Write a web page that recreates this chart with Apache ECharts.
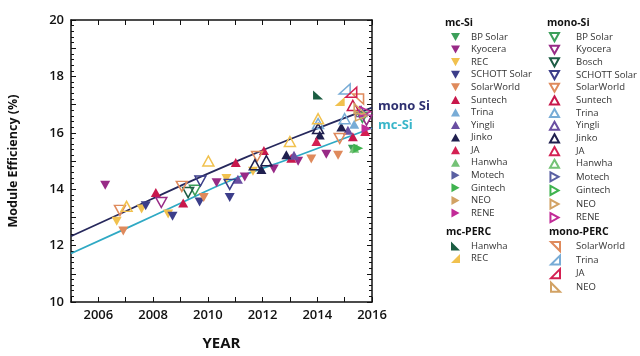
<!DOCTYPE html>
<html><head><meta charset="utf-8">
<script src="https://cdn.jsdelivr.net/npm/echarts@6/dist/echarts.min.js"></script>
<style>html,body{margin:0;padding:0;background:#fff}#c{width:640px;height:356px}</style>
</head><body><div id="c"></div>
<script>
// ---- Axis ticks ----
const yearMin = 2005, yearMax = 2016;
const effMin = 10, effMax = 20;

// ---- Trend lines [year, efficiency] ----
const monoSiTrend = [[2005,12.33],[2007,13.22],[2009,14.12],[2011,14.97],[2013,15.77],[2016,16.89]];
const mcSiTrend   = [[2005,11.72],[2007,12.6],[2009,13.5],[2011,14.38],[2013,15.08],[2016,16.17]];

// ---- mc-Si (filled) ----
const mcBPSolar   = [[2015.3,15.42]];
const mcKyocera   = [[2006.25,14.14],[2010.32,14.23],[2011.35,14.43],[2012.41,14.72],[2013.3,14.99],[2014.33,15.24]];
const mcREC       = [[2006.67,12.86],[2007.58,13.3],[2008.55,13.12],[2010.68,14.38],[2011.65,14.64]];
const mcSCHOTT    = [[2007.73,13.41],[2008.71,13.04],[2009.7,13.55],[2010.8,13.71]];
const mcSolarWorld= [[2006.91,12.52],[2009.85,13.71],[2013.78,15.07],[2014.76,15.2]];
const mcSuntech   = [[2008.1,13.88],[2009.1,13.51],[2011.02,14.95],[2012.05,15.37],[2013.05,15.1],[2015.3,15.86]];
const mcTrina     = [[2015.35,16.3]];
const mcYingli    = [[2011.1,14.35],[2013.15,15.2],[2015.12,16.09]];
const mcJinko     = [[2011.96,14.7],[2012.87,15.22],[2014.09,15.92],[2014.88,16.21]];
const mcJA        = [[2013.97,15.69],[2015.75,16.05]];
const mcHanwha    = [[2015.35,15.45]];
const mcMotech    = [];
const mcGintech   = [[2015.5,15.45]];
const mcNEO       = [];
const mcRENE      = [[2015.8,16.15]];

// ---- mono-Si (hollow) ----
const monoBPSolar   = [[2009.53,13.96],[2015.65,16.55]];
const monoKyocera   = [[2008.3,13.53],[2015.8,16.45]];
const monoBosch     = [[2009.28,13.88]];
const monoSCHOTT    = [[2009.73,14.29],[2010.8,14.17]];
const monoSolarWorld= [[2006.79,13.25],[2009.05,14.1],[2011.8,15.16],[2014.82,15.8]];
const monoSuntech   = [[2015.3,16.97]];
const monoTrina     = [[2014.03,16.33],[2015.0,16.5]];
const monoYingli    = [[2015.6,16.75]];
const monoJinko     = [[2011.72,14.87],[2012.14,15.01],[2014.03,16.15]];
const monoJA        = [];
const monoHanwha    = [];
const monoMotech    = [];
const monoGintech   = [];
const monoNEO       = [[2015.6,16.6]];
const monoRENE      = [[2015.75,16.75]];
const monoREC       = [[2007.03,13.39],[2010.02,15.0],[2013.0,15.69],[2014.03,16.5]];

// ---- PERC ----
const mcPercHanwha   = [[2014.03,17.34]];
const mcPercREC      = [[2014.82,17.11]];
const monoPercSolarWorld = [[2015.49,17.2]];
const monoPercTrina  = [[2015.0,17.55]];
const monoPercJA     = [[2015.24,17.44]];
const monoPercNEO    = [[2015.55,16.85]];

// ---- legend names ----
const mcNames   = ['BP Solar','Kyocera','REC','SCHOTT Solar','SolarWorld','Suntech','Trina','Yingli','Jinko','JA','Hanwha','Motech','Gintech','NEO','RENE'];
const monoNames = ['BP Solar','Kyocera','Bosch','SCHOTT Solar','SolarWorld','Suntech','Trina','Yingli','Jinko','JA','Hanwha','Motech','Gintech','NEO','RENE'];
const mcPercNames = ['Hanwha','REC'];
const monoPercNames = ['SolarWorld','Trina','JA','NEO'];

// ---- styles ----
const C = {
  'BP Solar':'#3c9f5a','Kyocera':'#982a86','REC':'#f1c14e','SCHOTT Solar':'#3c3e8a','SolarWorld':'#df8a5c',
  'Suntech':'#c8184c','Trina':'#78acd6','Yingli':'#6a4fa2','Jinko':'#1f1f4e','JA':'#d42052','Hanwha':'#74c276',
  'Motech':'#5a60a2','Gintech':'#3fb34f','NEO':'#d2a264','RENE':'#c22b97','Bosch':'#1d5c44','HanwhaPERC':'#1b5d42'
};
const S = {
  down:'path://M0,0 L10,0 L5,9 Z', up:'path://M5,0 L10,9 L0,9 Z', right:'path://M0,0 L9,5 L0,10 Z',
  bl:'path://M0,0 L0,10 L10,10 Z', br:'path://M10,0 L10,10 L0,10 Z', tr:'path://M0,0 L10,0 L10,10 Z'
};
const mcShape = {'BP Solar':'down','Kyocera':'down','REC':'down','SCHOTT Solar':'down','SolarWorld':'down','Suntech':'up','Trina':'up','Yingli':'up','Jinko':'up','JA':'up','Hanwha':'up','Motech':'right','Gintech':'right','NEO':'right','RENE':'right','Bosch':'down'};

const mcData = {'BP Solar':mcBPSolar,'Kyocera':mcKyocera,'REC':mcREC,'SCHOTT Solar':mcSCHOTT,'SolarWorld':mcSolarWorld,'Suntech':mcSuntech,'Trina':mcTrina,'Yingli':mcYingli,'Jinko':mcJinko,'JA':mcJA,'Hanwha':mcHanwha,'Motech':mcMotech,'Gintech':mcGintech,'NEO':mcNEO,'RENE':mcRENE};
const monoData = {'BP Solar':monoBPSolar,'Kyocera':monoKyocera,'Bosch':monoBosch,'SCHOTT Solar':monoSCHOTT,'SolarWorld':monoSolarWorld,'Suntech':monoSuntech,'Trina':monoTrina,'Yingli':monoYingli,'Jinko':monoJinko,'JA':monoJA,'Hanwha':monoHanwha,'Motech':monoMotech,'Gintech':monoGintech,'NEO':monoNEO,'RENE':monoRENE};

function filled(name, key, shape, data, color){
  return {type:'scatter', name:key, data:data, symbol:S[shape], symbolSize:[10,9], z:3,
    itemStyle:{color:color, opacity:1}};
}
function hollow(name, key, shape, data, color){
  return {type:'scatter', name:key, data:data, symbol:S[shape], symbolSize:[11,10], z:4,
    itemStyle:{color:'rgba(255,255,255,0)', borderColor:color, borderWidth:1.5, opacity:1}};
}

const series = [];
series.push({type:'line', name:'monoTrend', data:monoSiTrend, smooth:true, showSymbol:false, z:1,
  lineStyle:{color:'#26285c', width:1.8},
  endLabel:{show:true, formatter:'mono Si', color:'#2e3070', fontWeight:'bold', fontSize:13, fontFamily:'Open Sans', distance:6, offset:[0,-1]}});
series.push({type:'line', name:'mcTrend', data:mcSiTrend, smooth:true, showSymbol:false, z:1,
  lineStyle:{color:'#2fa9c4', width:1.8},
  endLabel:{show:true, formatter:'mc-Si', color:'#38b5c9', fontWeight:'bold', fontSize:13, fontFamily:'Open Sans', distance:6, offset:[0,-3]}});

mcNames.forEach(n => series.push(filled(n, n+'|mc', mcShape[n], mcData[n], C[n])));
monoNames.forEach(n => series.push(hollow(n, n+'|mono', mcShape[n], monoData[n], C[n])));
series.push(hollow('REC','REC|monoextra','up',monoREC,C['REC']));
series.push(filled('Hanwha','Hanwha|mcperc','bl',mcPercHanwha,C['HanwhaPERC']));
series.push(filled('REC','REC|mcperc','br',mcPercREC,C['REC']));
series.push(hollow('SolarWorld','SolarWorld|monoperc','tr',monoPercSolarWorld,C['SolarWorld']));
series.push(hollow('Trina','Trina|monoperc','br',monoPercTrina,C['Trina']));
series.push(hollow('JA','JA|monoperc','br',monoPercJA,C['JA']));
series.push(hollow('NEO','NEO|monoperc','bl',monoPercNEO,C['NEO']));

function leg(names, suffix, left, top, gap){
  return {orient:'vertical', left:left, top:top, padding:0, itemGap:2.57, itemWidth:9, itemHeight:9,
    selectedMode:false, data:names.map(n=>n+suffix), formatter:(s)=>s.split('|')[0],
    textStyle:{fontSize:9.5, fontFamily:'Open Sans', color:'#333', lineHeight:10, padding:[0,0,0,gap]}};
}

const axisBlack = {lineStyle:{color:'#111', width:1.5}};
const option = {
  animation:false,
  backgroundColor:'#fff',
  grid:{left:71, right:268, top:20, bottom:50},
  xAxis:[
    {type:'value', min:yearMin, max:yearMax, interval:1, axisLine:axisBlack,
     axisTick:{inside:true, length:5, lineStyle:{color:'#111'}}, splitLine:{show:false},
     axisLabel:{formatter:v=> v%2===0 ? String(v) : '', fontFamily:'Open Sans', fontWeight:600, fontSize:13, color:'#111', margin:7},
     name:'YEAR', nameLocation:'middle', nameGap:34, nameTextStyle:{fontFamily:'Open Sans', fontWeight:'bold', fontSize:15, color:'#111'}},
    {type:'value', position:'top', min:yearMin, max:yearMax, interval:1, axisLine:axisBlack,
     axisTick:{inside:true, length:5, lineStyle:{color:'#111'}}, axisLabel:{show:false}, splitLine:{show:false}}
  ],
  yAxis:[
    {type:'value', min:effMin, max:effMax, interval:1, axisLine:axisBlack,
     axisTick:{inside:true, length:5, lineStyle:{color:'#111'}},
     minorTick:{show:true, splitNumber:5, length:3, lineStyle:{color:'#111'}},
     splitLine:{show:false},
     axisLabel:{formatter:v=> v%2===0 ? String(v) : '', fontFamily:'Open Sans', fontWeight:600, fontSize:13, color:'#111', margin:7},
     name:'Module Efficiency (%)', nameLocation:'middle', nameGap:51, nameRotate:90,
     nameTextStyle:{fontFamily:'Open Sans', fontWeight:'bold', fontSize:12.5, color:'#111'}},
    {type:'value', position:'right', min:effMin, max:effMax, interval:1, axisLine:axisBlack,
     axisTick:{inside:true, length:5, lineStyle:{color:'#111'}},
     minorTick:{show:true, splitNumber:5, length:3, lineStyle:{color:'#111'}},
     axisLabel:{show:false}, splitLine:{show:false}}
  ],
  legend:[
    leg(mcNames,'|mc',451,32,6),
    leg(monoNames,'|mono',549,32,12),
    leg(mcPercNames,'|mcperc',451,241,6),
    leg(monoPercNames,'|monoperc',550,241,11)
  ],
  graphic:[
    {type:'text', left:445, top:18, style:{text:'mc-Si', font:'bold 10.5px "Open Sans"', fill:'#111'}},
    {type:'text', left:547, top:18, style:{text:'mono-Si', font:'bold 10.5px "Open Sans"', fill:'#111'}},
    {type:'text', left:446, top:227, style:{text:'mc-PERC', font:'bold 10.5px "Open Sans"', fill:'#111'}},
    {type:'text', left:549, top:227, style:{text:'mono-PERC', font:'bold 10.5px "Open Sans"', fill:'#111'}}
  ],
  series:series
};
const chart = echarts.init(document.getElementById('c'), null, {renderer:'canvas'});
chart.setOption(option);
</script></body></html>
